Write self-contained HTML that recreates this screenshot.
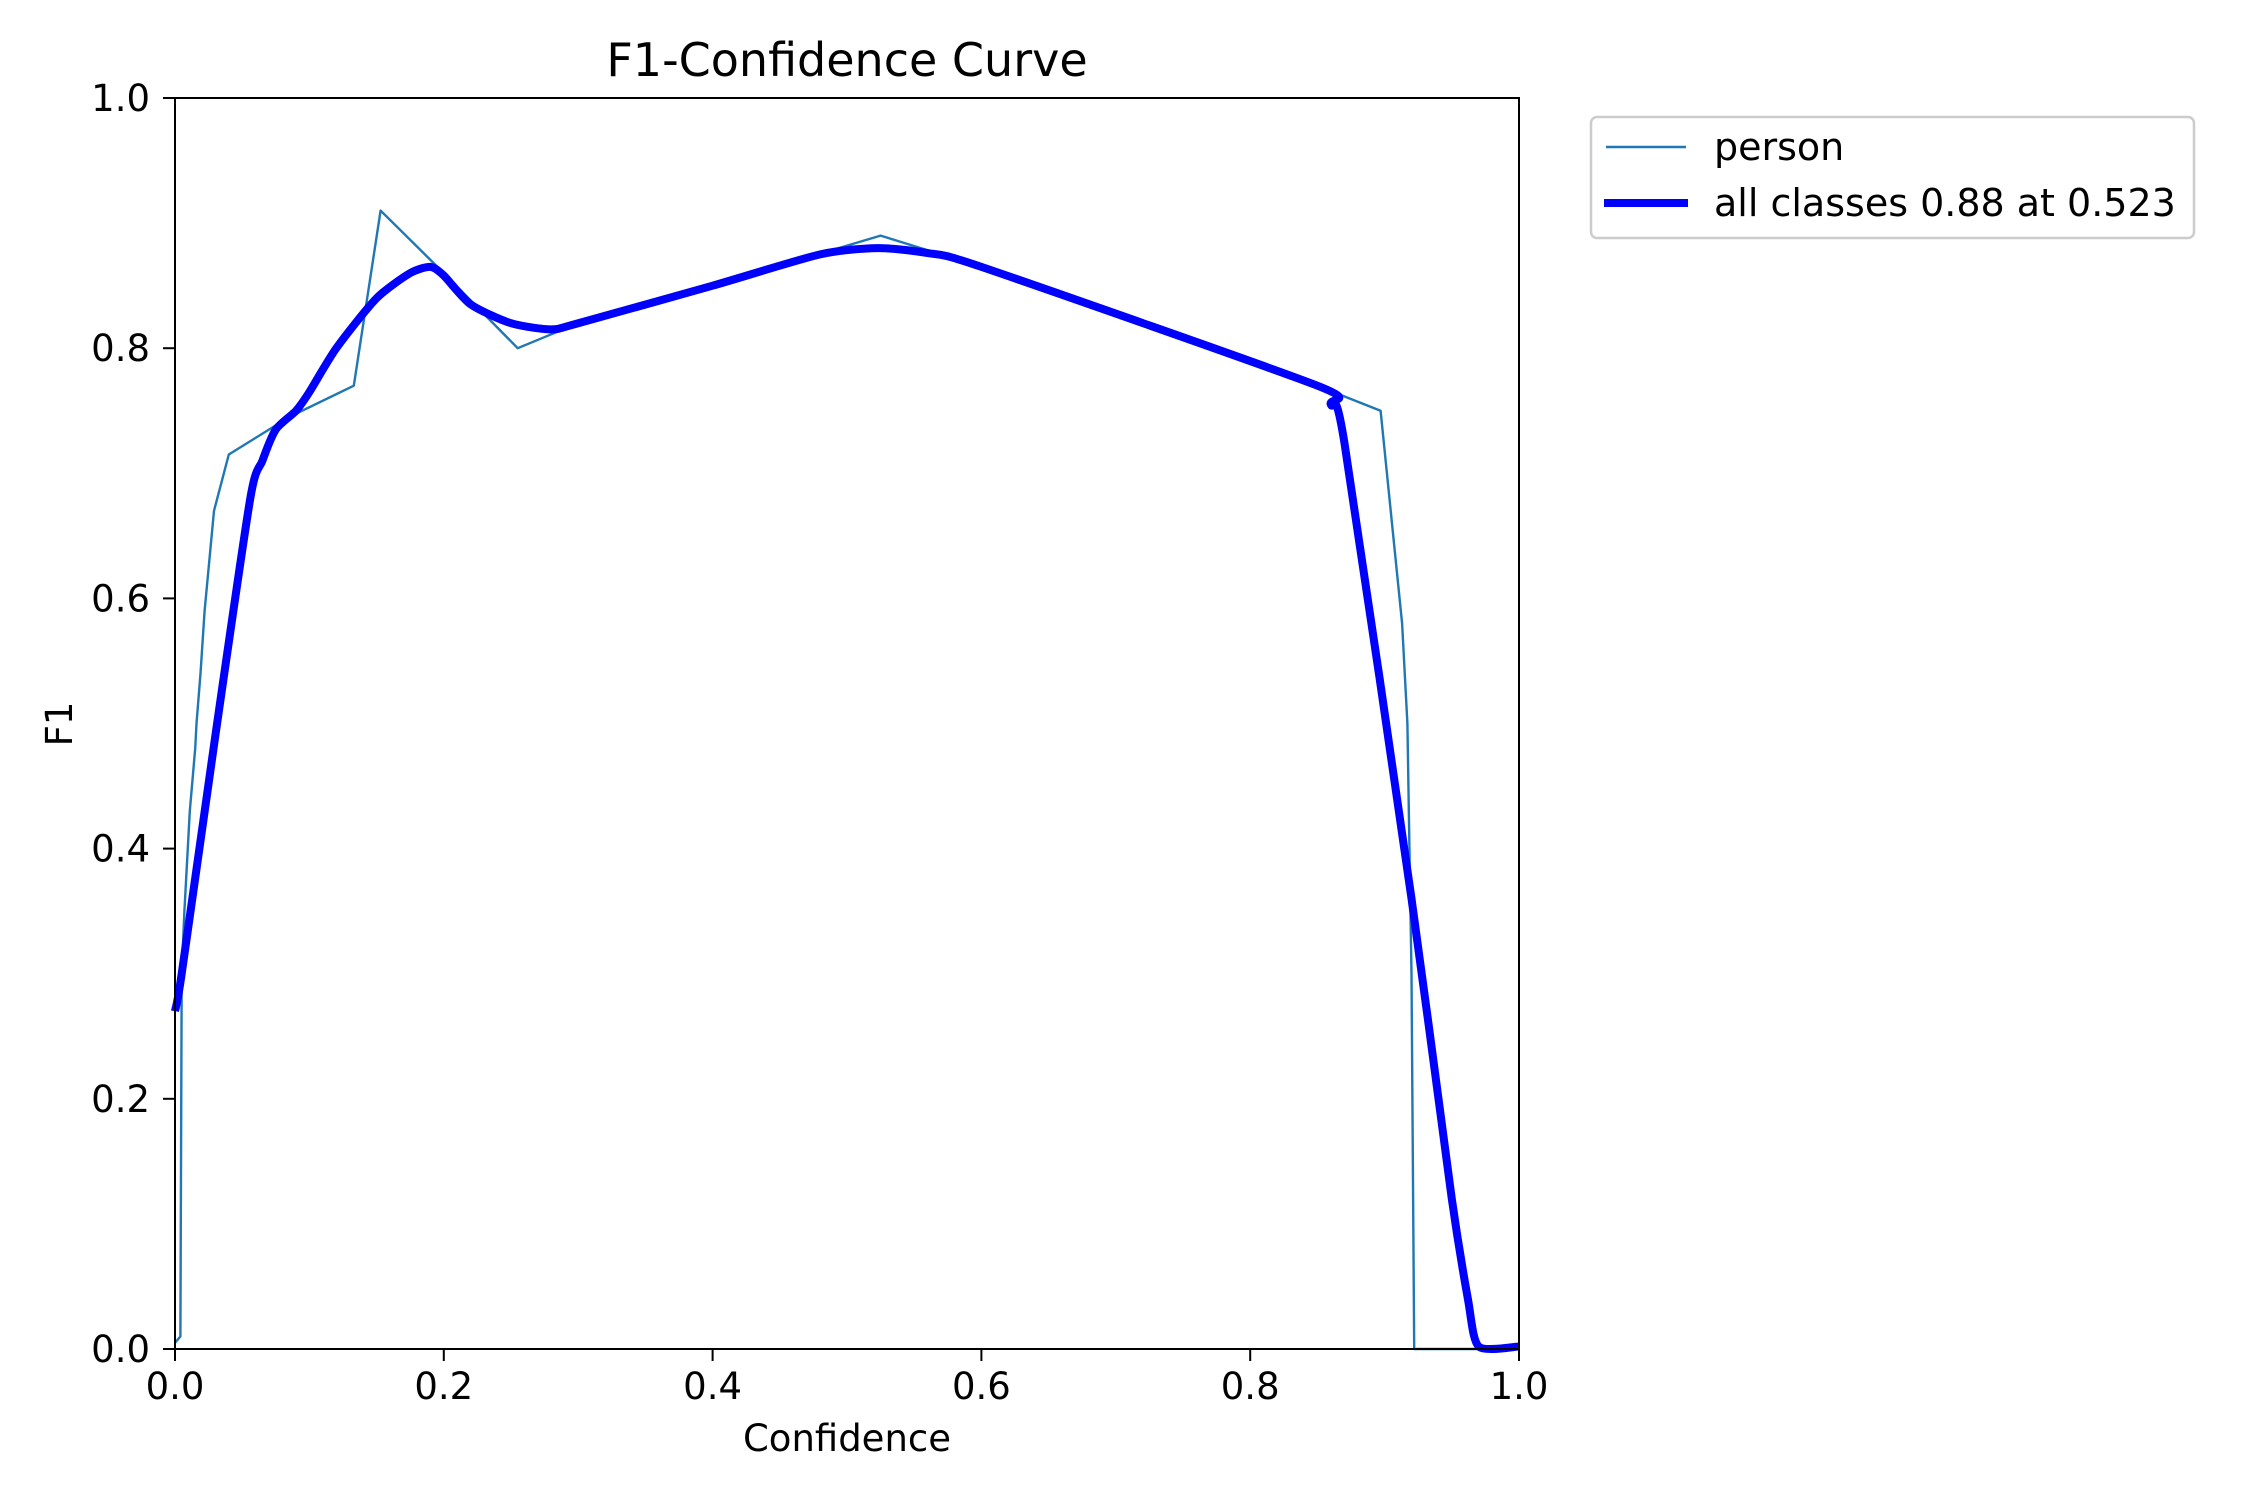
<!DOCTYPE html>
<html><head><meta charset="utf-8"><style>
html,body{margin:0;padding:0;background:#fff;}
svg{display:block;font-family:"DejaVu Sans","Liberation Sans",sans-serif;}
</style></head><body>
<svg id="chart" width="2250" height="1500" viewBox="0 0 2250 1500" xmlns="http://www.w3.org/2000/svg">
<rect width="2250" height="1500" fill="#fff"/>
<text x="847" y="76" font-size="46" text-anchor="middle">F1-Confidence Curve</text>
<g id="plot"></g>
<g id="axes"></g>
<text x="847" y="1451" font-size="37" text-anchor="middle">Confidence</text>
<text transform="translate(72,724) rotate(-90)" font-size="37" text-anchor="middle">F1</text>
<g>
<rect x="1591" y="117" width="603" height="121" rx="6" fill="#fff" stroke="#ccc" stroke-width="2.5"/>
<line x1="1606" y1="147" x2="1686" y2="147" stroke="#1f77b4" stroke-width="2.4"/>
<text x="1714" y="160" font-size="38">person</text>
<line x1="1604" y1="203" x2="1688" y2="203" stroke="#0000ff" stroke-width="8"/>
<text x="1714" y="216" font-size="38">all classes 0.88 at 0.523</text>
</g>
</svg>
<script>
const personX=[0,0.004,0.005,0.007,0.011,0.015,0.016,0.019,0.022,0.029,0.04,0.085,0.133,0.153,0.2,0.255,0.3,0.4,0.525,0.6,0.85,0.897,0.913,0.917,0.92,0.922,1.0];
const personY=[0.005,0.01,0.3,0.35,0.43,0.48,0.5,0.54,0.59,0.67,0.715,0.745,0.77,0.91,0.86,0.8,0.82,0.85,0.89,0.865,0.77,0.75,0.58,0.5,0.3,0,0];
const allX=[0,0.005,0.03,0.056,0.065,0.075,0.09,0.1,0.12,0.15,0.175,0.19,0.2,0.22,0.25,0.28,0.3,0.4,0.48,0.523,0.56,0.6,0.85,0.86,0.87,0.92,0.95,0.962,0.97,1.0];
const allY=[0.27,0.3,0.49,0.68,0.71,0.735,0.75,0.765,0.8,0.84,0.86,0.865,0.858,0.835,0.82,0.815,0.82,0.85,0.875,0.88,0.876,0.865,0.77,0.755,0.725,0.36,0.12,0.04,0.002,0.002];
const xTicks=[0,0.2,0.4,0.6,0.8,1.0];
const yTicks=[0,0.2,0.4,0.6,0.8,1.0];
const xTickLabels=["0.0","0.2","0.4","0.6","0.8","1.0"];
const yTickLabels=["0.0","0.2","0.4","0.6","0.8","1.0"];
const L=175,R=1519,T=98,B=1349;
const sx=v=>L+v*(R-L), sy=v=>B-v*(B-T);
const NS="http://www.w3.org/2000/svg";
const plot=document.getElementById('plot'), axes=document.getElementById('axes');
function mk(tag,attrs,parent){const e=document.createElementNS(NS,tag);for(const k in attrs)e.setAttribute(k,attrs[k]);parent.appendChild(e);return e;}
function poly(xs,ys){return xs.map((x,i)=>sx(x).toFixed(1)+','+sy(ys[i]).toFixed(1)).join(' ');}
function smooth(xs,ys){
  const p=xs.map((x,i)=>[sx(x),sy(ys[i])]);
  let d='M'+p[0][0].toFixed(1)+','+p[0][1].toFixed(1);
  const k=0.12;
  for(let i=0;i<p.length-1;i++){
    const p0=p[i-1]||p[i],p1=p[i],p2=p[i+1],p3=p[i+2]||p[i+1];
    const c1=[p1[0]+(p2[0]-p0[0])*k,p1[1]+(p2[1]-p0[1])*k];
    const c2=[p2[0]-(p3[0]-p1[0])*k,p2[1]-(p3[1]-p1[1])*k];
    d+=' C'+c1[0].toFixed(1)+','+c1[1].toFixed(1)+' '+c2[0].toFixed(1)+','+c2[1].toFixed(1)+' '+p2[0].toFixed(1)+','+p2[1].toFixed(1);
  }
  return d;
}
const p1=mk('polyline',{points:poly(personX,personY),fill:'none',stroke:'#1f77b4','stroke-width':2.4,'stroke-linejoin':'round'},plot);


const p2=mk('path',{d:smooth(allX,allY),fill:'none',stroke:'#0000ff','stroke-width':8,'stroke-linejoin':'round'},plot);


const fr=mk('rect',{x:L,y:T,width:R-L,height:B-T,fill:'none',stroke:'#000','stroke-width':2},axes);


xTicks.forEach((v,i)=>{
  const t=mk('line',{x1:sx(v),y1:B,x2:sx(v),y2:B+12,stroke:'#000','stroke-width':2},axes);
  
  
  const l=mk('text',{x:sx(v),y:B+50,'font-size':37,'text-anchor':'middle'},axes);
  l.textContent=xTickLabels[i];
  
  
});
yTicks.forEach((v,i)=>{
  const t=mk('line',{x1:L-12,y1:sy(v),x2:L,y2:sy(v),stroke:'#000','stroke-width':2},axes);
  
  
  const l=mk('text',{x:150,y:sy(v)+13,'font-size':37,'text-anchor':'end'},axes);
  l.textContent=yTickLabels[i];
  
  
});
</script>
</body></html>
